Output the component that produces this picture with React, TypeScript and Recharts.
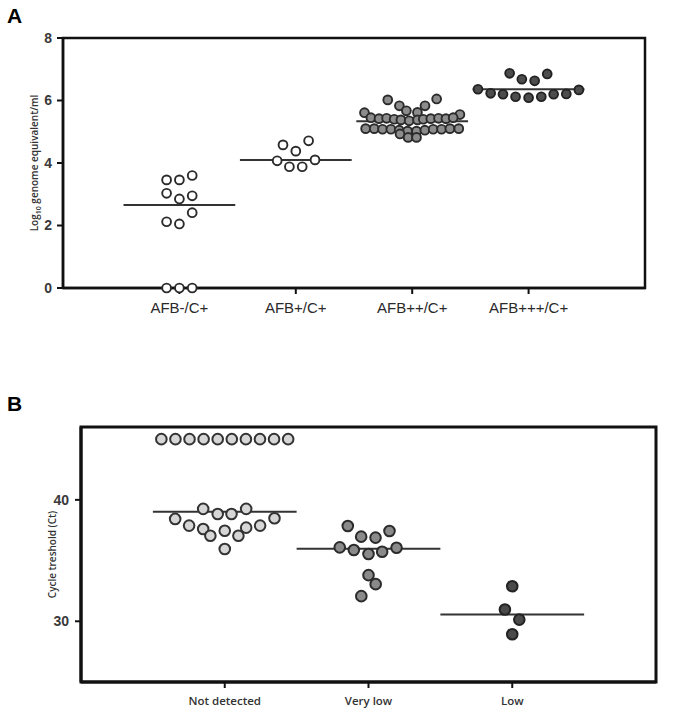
import * as React from "react"
import {
  ScatterChart,
  Scatter,
  XAxis,
  YAxis,
  ReferenceLine,
  ReferenceArea,
} from "recharts"

// Panel A: log10 genome equivalents per smear grade
const gradeLabels = ["AFB-/C+", "AFB+/C+", "AFB++/C+", "AFB+++/C+"]
const gradeMedians = [2.66, 4.1, 5.34, 6.36]

const afbNegY = [3.46, 3.46, 3.6, 3.03, 2.85, 2.95, 2.41, 2.12, 2.05, 0, 0, 0]
const afbNegDx = [-0.11, 0, 0.11, -0.11, 0, 0.11, 0.11, -0.11, 0, -0.11, 0, 0.11]

const afb1Y = [4.58, 4.38, 4.71, 4.07, 3.88, 3.88, 4.1]
const afb1Dx = [-0.11, 0, 0.11, -0.16, -0.055, 0.055, 0.165]

const afb2Y = [
  6.02, 6.05, 5.83, 5.83, 5.67, 5.62, 5.61, 5.55,
  5.45, 5.42, 5.43, 5.4, 5.38, 5.35, 5.38, 5.4, 5.42, 5.43, 5.42, 5.45,
  5.1, 5.1, 5.08, 5.08, 5.05, 5.02, 5.02, 5.05, 5.08, 5.08, 5.1, 5.1,
  4.93, 4.82, 4.82,
]
const afb2Dx = [
  -0.21, 0.21, -0.11, 0.11, -0.05, 0.045, -0.41, 0.41,
  -0.355, -0.285, -0.22, -0.155, -0.097, -0.026, 0.046, 0.095, 0.16, 0.226, 0.29, 0.352,
  -0.4, -0.326, -0.255, -0.183, -0.112, -0.04, 0.037, 0.109, 0.18, 0.252, 0.324, 0.4,
  -0.105, -0.035, 0.037,
]

const afb3Y = [6.87, 6.68, 6.63, 6.85, 6.36, 6.34, 6.23, 6.2, 6.12, 6.09, 6.12, 6.2, 6.21]
const afb3Dx = [-0.163, -0.058, 0.052, 0.16, -0.435, 0.432, -0.326, -0.22, -0.112, 0, 0.109, 0.215, 0.324]

// Panel B: cycle threshold per Xpert semi-quantitative result
const ctLabels = ["Not detected", "Very low", "Low"]
const ctMedians = [39.03, 35.98, 30.55]

const notDetY = [
  45, 45, 45, 45, 45, 45, 45, 45, 45, 45,
  39.26, 38.84, 38.84, 39.26, 38.43, 38.49, 37.88, 37.88, 37.6, 37.71, 37.05, 37.46, 37.05, 35.95,
]
const notDetDx = [
  -0.441, -0.343, -0.245, -0.147, -0.049, 0.049, 0.147, 0.245, 0.343, 0.441,
  -0.15, -0.049, 0.047, 0.149, -0.345, 0.346, -0.248, 0.246, -0.15, 0.149, -0.1, 0, 0.095, 0,
]

const veryLowY = [37.85, 36.97, 36.89, 37.44, 36.09, 35.87, 35.54, 35.73, 36.06, 33.8, 33.06, 32.07]
const veryLowDx = [-0.144, -0.051, 0.049, 0.146, -0.2, -0.102, 0, 0.095, 0.195, 0, 0.05, -0.05]

const lowY = [32.89, 30.97, 30.14, 28.93]
const lowDx = [0, -0.051, 0.049, 0]

const toPoints = (cat: number, dx: number[], ys: number[]) =>
  ys.map((y, i) => ({ x: cat + dx[i], y }))

const dot = (fill: string, stroke: string, r: number, sw: number) => (p: any) =>
  <circle cx={p.cx} cy={p.cy} r={r} fill={fill} stroke={stroke} strokeWidth={sw} />

const tickFont = { fontFamily: "'Liberation Sans', Arial, sans-serif", fontWeight: 700, fontSize: 14, fill: "#3a3a3a" }

function VerticalTitle({ x, y, children }: { x: number; y: number; children: React.ReactNode }) {
  return (
    <text
      transform={`translate(${x},${y}) rotate(-90)`}
      textAnchor="middle"
      fontFamily="'Open Sans', sans-serif"
      fontWeight={600}
      fontSize={10}
      fill="#333"
    >
      {children}
    </text>
  )
}

function PanelA() {
  const groups = [
    { data: toPoints(1, afbNegDx, afbNegY), fill: "#ffffff", stroke: "#2b2b2b" },
    { data: toPoints(2, afb1Dx, afb1Y), fill: "#ffffff", stroke: "#2b2b2b" },
    { data: toPoints(3, afb2Dx, afb2Y), fill: "#8c8c8c", stroke: "#2b2b2b" },
    { data: toPoints(4, afb3Dx, afb3Y), fill: "#4d4d4d", stroke: "#222" },
  ]
  return (
    <ScatterChart width={689} height={330} margin={{ top: 38, right: 44, bottom: 12, left: 13 }}>
      <XAxis
        type="number"
        dataKey="x"
        domain={[0, 5]}
        ticks={[1, 2, 3, 4]}
        tickFormatter={(v: number) => gradeLabels[v - 1]}
        height={30}
        tickSize={6}
        tickMargin={8}
        axisLine={{ stroke: "#111", strokeWidth: 2.5 }}
        tickLine={{ stroke: "#111", strokeWidth: 2 }}
        tick={{ fontFamily: "'Liberation Sans', Arial, sans-serif", fontSize: 15, fill: "#2a2a2a" }}
        interval={0}
      />
      <YAxis
        type="number"
        dataKey="y"
        domain={[0, 8]}
        ticks={[0, 2, 4, 6, 8]}
        width={50}
        tickSize={6}
        tickMargin={5}
        axisLine={{ stroke: "#111", strokeWidth: 2.5 }}
        tickLine={{ stroke: "#111", strokeWidth: 2 }}
        tick={tickFont}
        label={
          <VerticalTitle x={21} y={155}>
            Log<tspan fontSize={7} dy={3}>10</tspan>
            <tspan dy={-3}> genome equivalent/ml</tspan>
          </VerticalTitle>
        }
      />
      <ReferenceArea x1={0} x2={5} y1={0} y2={8} fill="none" stroke="#111" strokeWidth={2.5} />
      {gradeMedians.map((m, i) => (
        <ReferenceLine
          key={i}
          segment={[{ x: i + 1 - 0.48, y: m }, { x: i + 1 + 0.48, y: m }]}
          stroke="#333"
          strokeWidth={2}
        />
      ))}
      {groups.map((g, i) => (
        <Scatter key={i} data={g.data} isAnimationActive={false} shape={dot(g.fill, g.stroke, 4.4, 1.9)} />
      ))}
    </ScatterChart>
  )
}

function PanelB() {
  const groups = [
    { data: toPoints(1, notDetDx, notDetY), fill: "#d6d6d6", stroke: "#333" },
    { data: toPoints(2, veryLowDx, veryLowY), fill: "#8a8a8a", stroke: "#2b2b2b" },
    { data: toPoints(3, lowDx, lowY), fill: "#4a4a4a", stroke: "#222" },
  ]
  return (
    <ScatterChart width={689} height={338} margin={{ top: 47, right: 33, bottom: 6, left: 31 }}>
      <XAxis
        type="number"
        dataKey="x"
        domain={[0, 4]}
        ticks={[1, 2, 3]}
        tickFormatter={(v: number) => ctLabels[v - 1]}
        height={30}
        tickSize={6}
        tickMargin={9}
        axisLine={{ stroke: "#111", strokeWidth: 3 }}
        tickLine={{ stroke: "#111", strokeWidth: 2 }}
        tick={{ fontFamily: "'Open Sans', sans-serif", fontWeight: 600, fontSize: 11.5, fill: "#333" }}
        interval={0}
      />
      <YAxis
        type="number"
        dataKey="y"
        domain={[25, 46]}
        ticks={[30, 40]}
        width={50}
        tickSize={6}
        tickMargin={6}
        axisLine={{ stroke: "#111", strokeWidth: 3 }}
        tickLine={{ stroke: "#111", strokeWidth: 2 }}
        tick={tickFont}
        label={<VerticalTitle x={21} y={156}>Cycle treshold (Ct)</VerticalTitle>}
      />
      <ReferenceArea x1={0} x2={4} y1={25} y2={46} fill="none" stroke="#111" strokeWidth={3} />
      {ctMedians.map((m, i) => (
        <ReferenceLine
          key={i}
          segment={[{ x: i + 1 - 0.5, y: m }, { x: i + 1 + 0.5, y: m }]}
          stroke="#333"
          strokeWidth={2}
        />
      ))}
      {groups.map((g, i) => (
        <Scatter key={i} data={g.data} isAnimationActive={false} shape={dot(g.fill, g.stroke, 5.3, 2)} />
      ))}
    </ScatterChart>
  )
}

const letterStyle: React.CSSProperties = {
  position: "absolute",
  left: 7,
  fontFamily: "'Liberation Sans', Arial, sans-serif",
  fontWeight: 700,
  fontSize: 21,
  color: "#000",
  lineHeight: 1,
}

export default function App() {
  return (
    <div style={{ position: "absolute", left: 0, top: 0, width: 689, height: 718, background: "#fff" }}>
      <div style={{ ...letterStyle, top: 5 }}>A</div>
      <div style={{ position: "absolute", left: 0, top: 0 }}>
        <PanelA />
      </div>
      <div style={{ ...letterStyle, top: 393 }}>B</div>
      <div style={{ position: "absolute", left: 0, top: 380 }}>
        <PanelB />
      </div>
    </div>
  )
}
